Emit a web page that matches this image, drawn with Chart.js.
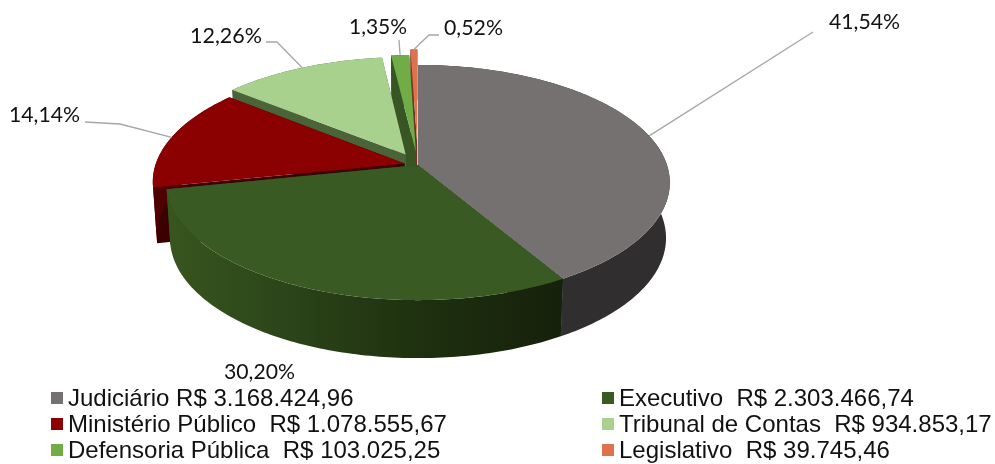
<!DOCTYPE html>
<html>
<head>
<meta charset="utf-8">
<script src="https://cdn.jsdelivr.net/npm/chart.js@4"></script>
<style>
    html, body { margin: 0; padding: 0; background: #fff; }
    #wrap { position: relative; width: 995px; height: 464px; overflow: hidden; }
    #legend { position: absolute; left: 0; top: 0; margin: 0; padding: 0; list-style: none; }
    #legend li { position: absolute; white-space: pre; font: 24px "Liberation Sans", Arial, sans-serif; color: #111; line-height: 26px; }
    #legend .itemMarker { position: absolute; width: 12px; height: 12px; left: -17px; top: 7px; }
</style>
</head>
<body>
<div id="wrap">
    <canvas id="myChart" width="995" height="464"></canvas>
    <ul id="legend"></ul>
</div>
<script>
const categories = ['Judiciário', 'Executivo', 'Ministério Público', 'Tribunal de Contas', 'Defensoria Pública', 'Legislativo'];
const values = [3168424.96, 2303466.74, 1078555.67, 934853.17, 103025.25, 39745.46];
const amountLabels = ['R$ 3.168.424,96', 'R$ 2.303.466,74', 'R$ 1.078.555,67', 'R$ 934.853,17', 'R$ 103.025,25', 'R$ 39.745,46'];
const percentLabels = ['41,54%', '30,20%', '14,14%', '12,26%', '1,35%', '0,52%'];

const topColors = ['#767171', '#3a5a24', '#8b0000', '#a9d18e', '#70ad47', '#e0714f'];
const wallColors = ['#312e2f', '#2a4219', '#4f0000', '#4a6339', '#375623', '#7a3a25'];
const cutColors = ['#312e2f', '#2a4219', '#3d0000', '#4a6339', '#375623', '#6b3320'];
const explode = [0, 0, 14, 26, 29, 45];

// fake 3D pie: camera numbers measured on the picture
const view = { cx: 418, cy: 165, rx: 249, ry: 115, dist: 6.71, depth: 55, baseScale: 0.985 };

// text box and leader bends for each label, same order as categories
const labelLayout = [
    { x: 829, y: 22, w: 71, bends: [[813, 32]] },
    { x: 224, y: 372, w: 71, bends: null },
    { x: 9, y: 115, w: 71, bends: [[120, 124], [85, 122]] },
    { x: 190, y: 36, w: 72, bends: [[277, 42], [266, 42]] },
    { x: 349, y: 27, w: 58, bends: [[399, 40]] },
    { x: 444, y: 28, w: 59, bends: [[429, 35], [439, 35]] }
];
const legendLayout = [
    { left: 68, top: 385 }, { left: 619, top: 385 },
    { left: 68, top: 411 }, { left: 619, top: 411 },
    { left: 68, top: 437 }, { left: 619, top: 437 }
];

function project(px, pz, isBase) {
    const f = view.dist / (view.dist + pz);
    const s = isBase ? view.baseScale : 1;
    return {
        x: view.cx + view.rx * px * f * s,
        y: view.cy - view.ry * pz * f * s + (isBase ? view.depth - 5 * pz : 0)
    };
}

function slicePoints(arc, isBase) {
    const start = arc.startAngle + Math.PI / 2;
    const end = arc.endAngle + Math.PI / 2;
    const mid = (start + end) / 2;
    const off = (arc.options.offset || 0) / view.rx;
    const ox = Math.sin(mid) * off;
    const oz = Math.cos(mid) * off;
    const steps = Math.max(4, Math.ceil((end - start) * 60));
    const pts = [];
    for (let i = 0; i <= steps; i++) {
        const t = start + (end - start) * i / steps;
        pts.push(project(Math.sin(t) + ox, Math.cos(t) + oz, isBase));
    }
    return { rim: pts, apex: project(ox, oz, isBase), midPoint: project(Math.sin(mid) + ox, Math.cos(mid) + oz, isBase) };
}

function fillPoly(ctx, pts, color) {
    ctx.beginPath();
    pts.forEach(function (p, i) {
        if (i === 0) ctx.moveTo(p.x, p.y);
        else ctx.lineTo(p.x, p.y);
    });
    ctx.closePath();
    ctx.fillStyle = color;
    ctx.fill();
}

const pie3d = {
    id: 'pie3d',
    // the library only lays out the arcs here, we paint them tilted
    beforeDatasetsDraw(chart) {
        const ctx = chart.ctx;
        const arcs = chart.getDatasetMeta(0).data;
        const order = [5, 4, 3, 2, 0, 1];

        const execWall = ctx.createLinearGradient(166, 0, 560, 0);
        execWall.addColorStop(0, '#38561f');
        execWall.addColorStop(0.3, '#2c4519');
        execWall.addColorStop(0.65, '#1e300f');
        execWall.addColorStop(1, '#16210b');

        order.forEach(function (i) {
            const top = slicePoints(arcs[i], false);
            const base = slicePoints(arcs[i], true);
            const last = top.rim.length - 1;

            fillPoly(ctx, [top.rim[0], top.apex, base.apex, base.rim[0]], cutColors[i]);
            fillPoly(ctx, [top.rim[last], top.apex, base.apex, base.rim[last]], cutColors[i]);
            fillPoly(ctx, top.rim.concat(base.rim.slice().reverse()), i === 1 ? execWall : wallColors[i]);
            fillPoly(ctx, [top.apex].concat(top.rim), topColors[i]);
        });

        // leader lines
        ctx.strokeStyle = '#a6a6a6';
        ctx.lineWidth = 1.3;
        arcs.forEach(function (arc, i) {
            const bends = labelLayout[i].bends;
            if (!bends) return;
            const from = slicePoints(arc, false).midPoint;
            ctx.beginPath();
            ctx.moveTo(from.x, from.y);
            bends.forEach(function (b) { ctx.lineTo(b[0], b[1]); });
            ctx.stroke();
        });

        // percent labels
        ctx.font = '22px Lato, "Open Sans", sans-serif';
        ctx.fillStyle = '#111';
        ctx.textBaseline = 'middle';
        ctx.textAlign = 'left';
        percentLabels.forEach(function (label, i) {
            const l = labelLayout[i];
            ctx.fillText(label, l.x, l.y, l.w);
        });
        return false;
    }
};

const myChart = new Chart(document.getElementById('myChart'), {
    type: 'pie',
    data: {
        labels: categories,
        datasets: [{
            data: values,
            backgroundColor: topColors,
            borderWidth: 0,
            offset: explode
        }]
    },
    options: {
        responsive: false,
        animation: false,
        plugins: {
            legend: { display: false },
            tooltip: { enabled: false }
        }
    },
    plugins: [pie3d]
});

function generateCustomLegend() {
    const legendContainer = document.getElementById('legend');
    legendContainer.innerHTML = '';
    for (let i = 0; i < categories.length; i++) {
        const listItem = document.createElement('li');
        const itemMarker = document.createElement('span');
        const itemText = document.createElement('span');
        itemMarker.classList.add('itemMarker');
        itemMarker.style.backgroundColor = topColors[i];
        itemText.textContent = categories[i] + (i === 0 ? ' ' : '  ') + amountLabels[i];
        listItem.style.left = legendLayout[i].left + 'px';
        listItem.style.top = legendLayout[i].top + 'px';
        listItem.appendChild(itemMarker);
        listItem.appendChild(itemText);
        legendContainer.appendChild(listItem);
    }
}
generateCustomLegend();
</script>
</body>
</html>
